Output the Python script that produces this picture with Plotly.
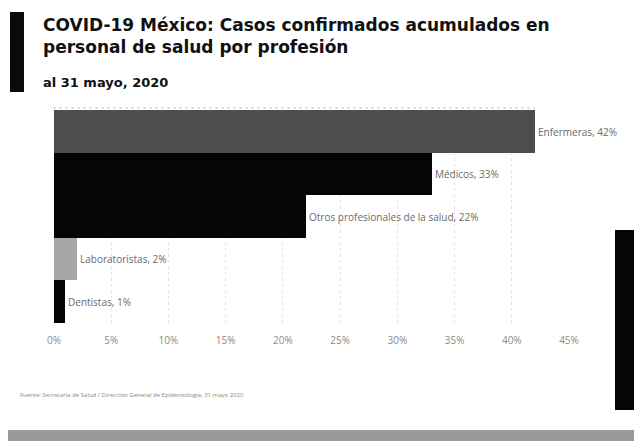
import plotly.graph_objects as go

categorias = ["Enfermeras", "Médicos", "Otros profesionales de la salud", "Laboratoristas", "Dentistas"]
porcentajes = [42, 33, 22, 2, 1]
colores = ["#4d4d4d", "#050505", "#050505", "#a6a6a6", "#050505"]
ticks_x = [0, 5, 10, 15, 20, 25, 30, 35, 40, 45]
ticks_txt = [f"{t}%" for t in ticks_x]

OFF = 8  # browser body margin
W, H = 642 - OFF, 441 - OFF
# plot area in reference pixel coordinates
X0, X1, Y0, Y1 = 54, 569, 110, 323
L, R = X0 - OFF, W - (X1 - OFF)
T, B = Y0 - OFF, H - (Y1 - OFF)
PW, PH = W - L - R, H - T - B

def px(x):
    return (x - OFF - L) / PW

def py(y):
    return (H - B - (y - OFF)) / PH

etiquetas = [f"{c}, {p}%" for c, p in zip(categorias, porcentajes)]

fig = go.Figure(go.Bar(
    x=porcentajes,
    y=categorias,
    orientation="h",
    marker=dict(color=colores, line=dict(width=0)),
    text=etiquetas,
    textposition="outside",
    textfont=dict(family="Open Sans", size=10, color="#6a6a6a"),
    cliponaxis=False,
    hoverinfo="skip",
))

fig.update_layout(
    width=W, height=H,
    margin=dict(l=L, r=R, t=T, b=B),
    paper_bgcolor="white", plot_bgcolor="white",
    bargap=0,
    showlegend=False,
    font=dict(family="Open Sans", color="#777"),
    xaxis=dict(range=[0, 45], tickvals=ticks_x, ticktext=ticks_txt,
               showgrid=True, gridcolor="#e6e6e6", griddash="dot", gridwidth=1,
               zeroline=False, showline=False, ticks="",
               tickfont=dict(size=10, color="#8a8a8a"), ticklabelstandoff=10),
    yaxis=dict(autorange="reversed", showticklabels=False, showgrid=False,
               zeroline=False, showline=False),
)

shapes = [
    dict(type="rect", xref="paper", yref="paper", x0=px(10), x1=px(24), y0=py(92), y1=py(12),
         fillcolor="#0a0a0a", line=dict(width=0), layer="above"),
    dict(type="line", xref="paper", yref="paper", x0=px(53), x1=px(535), y0=py(108), y1=py(108),
         line=dict(color="#c4c4c4", width=1, dash="dot")),
    dict(type="rect", xref="paper", yref="paper", x0=px(0), x1=px(642), y0=py(441), y1=py(430),
         fillcolor="#9a9a9a", line=dict(width=0)),
    dict(type="rect", xref="paper", yref="paper", x0=px(615), x1=px(642), y0=py(410), y1=py(230),
         fillcolor="#050505", line=dict(width=0)),
]
fig.update_layout(shapes=shapes)

annotations = [
    dict(text="<b>COVID-19 México: Casos confirmados acumulados en<br>personal de salud por profesión</b>",
         xref="paper", yref="paper", x=px(41), y=py(13), xanchor="left", yanchor="top",
         align="left", showarrow=False,
         font=dict(family="DejaVu Sans", size=17, color="#111")),
    dict(text="<b>al 31 mayo, 2020</b>",
         xref="paper", yref="paper", x=px(41), y=py(73), xanchor="left", yanchor="top",
         align="left", showarrow=False,
         font=dict(family="DejaVu Sans", size=13, color="#111")),
    dict(text="Fuente: Secretaría de Salud / Dirección General de Epidemiología, 31 mayo 2020",
         xref="paper", yref="paper", x=px(18), y=py(395), xanchor="left", yanchor="middle",
         align="left", showarrow=False,
         font=dict(family="Open Sans", size=6, color="#888")),
]
fig.update_layout(annotations=annotations)

fig.write_html("out.html")
